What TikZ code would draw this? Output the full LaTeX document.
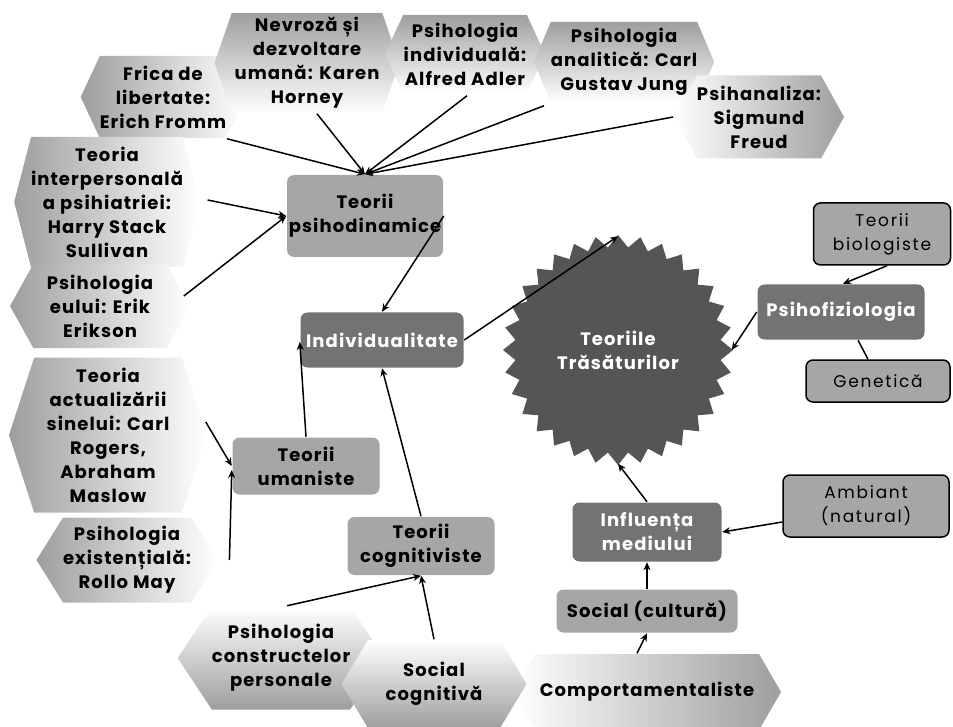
\documentclass[tikz,border=0pt]{standalone}
\usepackage{fontspec}
\setmainfont{Poppins}[LetterSpace=6]
\newfontfamily\thinfont{Poppins}[LetterSpace=10]
\usetikzlibrary{positioning, arrows.meta, shapes.geometric, shapes.symbols}

\definecolor{hexgray}{HTML}{9E9E9E}
\definecolor{boxlight}{HTML}{A6A6A6}
\definecolor{boxdark}{HTML}{737373}
\definecolor{stargray}{HTML}{555555}

\begin{document}
\begin{tikzpicture}[->,>={Stealth[length=8pt,width=7pt]},line width=1.5pt,x=1pt,y=-1pt,
    font=\fontsize{18}{24}\selectfont\bfseries,
    hexa/.style={signal, signal to=west and east, signal pointer angle=125, align=center, inner sep=0pt},
    box/.style={rectangle, rounded corners=7pt, align=center, inner sep=0pt},
    light/.style={box, fill=boxlight},
    dark/.style={box, fill=boxdark, text=white},
    framed/.style={box, fill=boxlight, draw=black, font=\fontsize{17}{24}\selectfont\thinfont}]
      \useasboundingbox (0,0) rectangle (953,727);
      % psihodinamice branch
      \node[hexa, minimum width=160pt, minimum height=82pt, signal pointer angle=130, left color=hexgray, right color=white] (frica) at (163,97) {Frica de\\libertate:\\Erich Fromm};
      \node[hexa, minimum width=185pt, minimum height=100pt, signal pointer angle=142, top color=hexgray, bottom color=white] (nevroza) at (307,63) {Nevroză și\\dezvoltare\\umană: Karen\\Horney};
      \node[hexa, minimum width=160pt, minimum height=78pt, signal pointer angle=130, top color=hexgray, bottom color=white] (individ) at (465,54) {Psihologia\\individuală:\\Alfred Adler};
      \node[hexa, minimum width=178pt, minimum height=80pt, signal pointer angle=134, top color=hexgray, bottom color=white] (analitica) at (624,62) {Psihologia\\analitică: Carl\\Gustav Jung};
      \node[hexa, minimum width=162pt, minimum height=83pt, signal pointer angle=122, left color=white, right color=hexgray] (psihanaliza) at (759,117) {Psihanaliza:\\Sigmund\\Freud};
      \node[hexa, minimum width=175pt, minimum height=130pt, signal pointer angle=151, left color=hexgray, right color=white] (interpers) at (107,202) {Teoria\\interpersonală\\a psihiatriei:\\Harry Stack\\Sullivan};
      \node[hexa, minimum width=180pt, minimum height=84pt, signal pointer angle=122, left color=hexgray, right color=white] (eului) at (100,306) {Psihologia\\eului: Erik\\Erikson};
      \node[light, minimum width=156pt, minimum height=82pt] (psihodin) at (365,216) {Teorii\\psihodinamice};
      % umaniste branch
      \node[hexa, minimum width=198pt, minimum height=155pt, signal pointer angle=144, left color=hexgray, right color=white] (actualiz) at (108,435) {Teoria\\actualizării\\sinelui: Carl\\Rogers,\\Abraham\\Maslow};
      \node[hexa, minimum width=180pt, minimum height=85pt, signal pointer angle=116, left color=hexgray, right color=white] (existent) at (127,560) {Psihologia\\existențială:\\Rollo May};
      \node[light, minimum width=147pt, minimum height=57pt] (umaniste) at (306,466) {Teorii\\umaniste};
      % cognitiviste branch
      \node[hexa, minimum width=268pt, minimum height=76pt, signal pointer angle=120, left color=white, right color=hexgray] (comport) at (647,692) {Comportamentaliste};
      \node[hexa, minimum width=185pt, minimum height=103pt, signal pointer angle=113, top color=white, bottom color=hexgray] (construct) at (281,658) {Psihologia\\constructelor\\personale};
      \node[hexa, minimum width=185pt, minimum height=88pt, signal pointer angle=118, top color=white, bottom color=hexgray] (socialcog) at (434,684) {Social\\cognitivă};
      \node[light, minimum width=147pt, minimum height=58pt] (cognit) at (421,546) {Teorii\\cognitiviste};
      % centre
      \node[dark, minimum width=163pt, minimum height=55pt] (indiv) at (382,340) {Individualitate};
      \fill[stargray] (733,350) \foreach \k in {1,...,63} {-- ({618+(109+6*cos(\k*180))*cos(\k*5.625)},{350+(109+6*cos(\k*180))*sin(\k*5.625)})} -- cycle;
      \node[circle, minimum size=226pt, inner sep=0pt, text=white, align=center] (trasat) at (618,350) {Teoriile\\Trăsăturilor};
      % right side
      \node[framed, minimum width=137pt, minimum height=62pt] (biolog) at (882,234) {Teorii\\biologiste};
      \node[dark, minimum width=167pt, minimum height=55pt] (psihofiz) at (841,312) {Psihofiziologia};
      \node[framed, minimum width=144pt, minimum height=42pt] (genetica) at (878,381) {Genetică};
      \node[framed, minimum width=166pt, minimum height=62pt] (ambiant) at (866,506) {Ambiant\\(natural)};
      \node[dark, minimum width=149pt, minimum height=59pt] (influenta) at (647,532) {Influența\\mediului};
      \node[light, minimum width=181pt, minimum height=43pt] (socialcult) at (647,611) {Social (cultură)};
      % connectors
      \path ([xshift=64pt]frica.south) edge (psihodin.north)
        ([xshift=10pt]nevroza.south) edge (psihodin.north)
        ([xshift=2pt,yshift=-2pt]individ.south) edge (psihodin.north)
        ([xshift=-80pt,yshift=-3pt]analitica.south) edge (psihodin.north)
        (psihanaliza.west) edge (psihodin.north)
        ([xshift=7pt,yshift=2pt]interpers.east) edge (psihodin.west)
        ([xshift=-7pt,yshift=10pt]eului.east) edge (psihodin.west)
        (psihodin.east) edge (indiv.north)
        (indiv.east) edge (trasat.north)
        (umaniste.north) edge ([yshift=-2pt]indiv.west)
        ([xshift=-2pt,yshift=13pt]actualiz.east) edge (umaniste.west)
        ([xshift=11pt]existent.east) edge ([yshift=-4pt]umaniste.west)
        (cognit.north) edge (indiv.south)
        ([xshift=6pt]construct.north) edge (cognit.south)
        (socialcog.north) edge (cognit.south)
        ([xshift=-10pt]comport.north) edge (socialcult.south)
        (socialcult.north) edge (influenta.south)
        (influenta.north) edge (trasat.south)
        ([yshift=-16pt]ambiant.west) edge (influenta.east)
        ([xshift=5pt]biolog.south) edge ([xshift=2pt]psihofiz.north)
        (psihofiz.west) edge (trasat.east)
        ([xshift=17pt]psihofiz.south) edge[-] ([xshift=-10pt]genetica.north);
    \end{tikzpicture}
\end{document}
